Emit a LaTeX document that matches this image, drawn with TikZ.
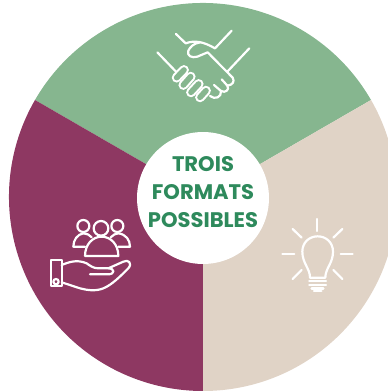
\documentclass[tikz,border=0pt]{standalone}
\usepackage{fontspec}
\setmainfont{Poppins}
\definecolor{sagegreen}{HTML}{86B68F}
\definecolor{plumred}{HTML}{8E3862}
\definecolor{sandbeige}{HTML}{E0D3C6}
\definecolor{titlegreen}{HTML}{2E8A5C}
\begin{document}
\begin{tikzpicture}[x=0.02cm,y=0.02cm,line join=round,line cap=round,
  iconline/.style={draw=white,line width=1.25pt},
  centerdisc/.style={circle,fill=white,minimum size=2.64cm,inner sep=0pt},
  titletext/.style={align=center,inner sep=0pt,text=titlegreen,font=\fontsize{12pt}{16pt}\selectfont\bfseries}]
\def\cx{203}\def\cy{195}\def\rout{194}
\useasboundingbox (0,0) rectangle (388,392);
\clip (0,0) rectangle (388,392);
\coordinate (mid) at (\cx,\cy);
\fill[sagegreen] (mid)--++(30:\rout) arc[start angle=30,end angle=150,radius=\rout]--cycle;
\fill[plumred] (mid)--++(150:\rout) arc[start angle=150,end angle=270,radius=\rout]--cycle;
\fill[sandbeige] (mid)--++(270:\rout) arc[start angle=270,end angle=390,radius=\rout]--cycle;
\node[centerdisc] (disc) at (203,194) {};
\node[titletext] (title) at (203,200) {TROIS\\FORMATS\\POSSIBLES};
% handshake
\begin{scope}[shift={(140,382)},xscale=1/3,yscale=-1/3,iconline]
\draw (52,127)--(108,185);
\draw (328,115)--(262,185);
\draw (108,72)--(137,100);
\draw (275,62)--(225,115);
\draw (137,100) .. controls (165,90) and (190,95) .. (225,115);
\draw (180,97) .. controls (160,100) and (150,112) .. (145,122) .. controls (140,138) and (155,145) .. (172,140) -- (203,127) -- (278,203) .. controls (285,215) and (278,225) .. (262,227) .. controls (270,240) and (255,250) .. (243,243) .. controls (245,262) and (225,270) .. (210,258);
\draw (222,225)--(243,243);
\draw (245,208)--(262,227);
\foreach \xa/\ya/\xb/\yb in {110/203/132/180,130/225/152/200,153/247/176/222,180/262/198/242}{
  \draw[line width=5.6pt] (\xa,\ya)--(\xb,\yb);
  \draw[sagegreen,line width=3.2pt] (\xa,\ya)--(\xb,\yb);
}
\end{scope}
% people and hand
\begin{scope}[shift={(40,187)},xscale=1/3,yscale=-1/3,iconline]
\draw (130,63) circle [radius=18];
\draw (183,70) circle [radius=22];
\draw (232,63) circle [radius=18];
\draw (135,125)--(100,125) .. controls (100,105) and (112,88) .. (130,85) .. controls (140,85) and (150,90) .. (155,97);
\draw (235,125)--(270,125) .. controls (270,105) and (258,88) .. (235,85) .. controls (228,85) and (218,90) .. (212,97);
\draw (135,153)--(235,153) .. controls (235,118) and (212,95) .. (185,95) .. controls (158,95) and (135,118) .. (135,153);
\draw (33,165) rectangle (65,243);
\draw (48,230) circle [radius=8];
\draw (65,180) .. controls (85,172) and (110,162) .. (140,175) .. controls (150,182) and (160,190) .. (175,190) -- (205,190) .. controls (225,190) and (225,208) .. (205,208) -- (150,208);
\draw (205,190) -- (250,170) .. controls (265,162) and (278,175) .. (265,190) .. controls (240,215) and (215,240) .. (190,250) .. controls (165,260) and (140,255) .. (120,250) -- (65,232);
\end{scope}
% bulb
\begin{scope}[shift={(270,187)},xscale=1/3,yscale=-1/3,iconline]
\foreach \xa/\ya/\xb/\yb in {142/42/142/78,68/72/95/98,217/72/190/98,37/147/73/147,212/147/248/147,68/222/95/195,217/222/190/195}
  \draw (\xa,\ya)--(\xb,\yb);
\draw (120,218) .. controls (120,190) and (97,175) .. (97,140) .. controls (97,112) and (118,94) .. (143,94) .. controls (168,94) and (189,112) .. (189,140) .. controls (189,175) and (166,190) .. (166,218) -- cycle;
\foreach \yb/\xa/\xb in {228/118/168,240/118/168,250/125/160,258/132/154}
  \draw[line width=1.4pt] (\xa,\yb)--(\xb,\yb);
\end{scope}
\end{tikzpicture}
\end{document}
